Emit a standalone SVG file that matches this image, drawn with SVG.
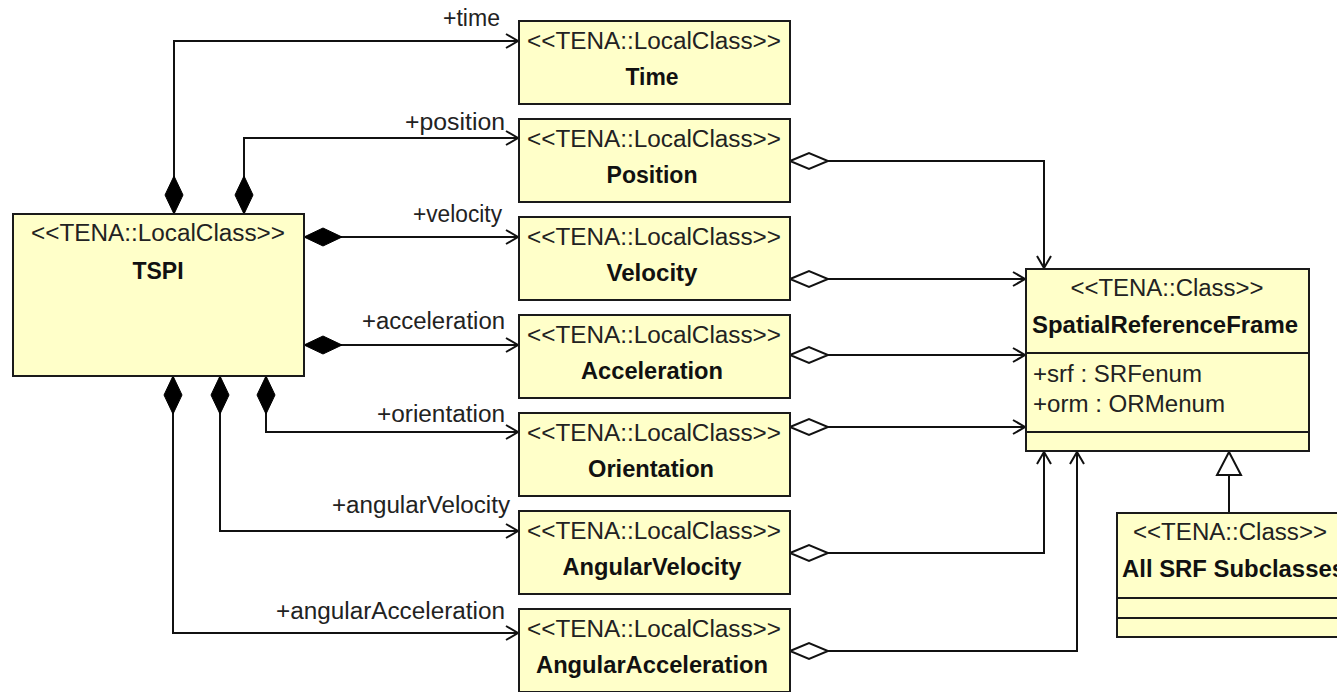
<svg xmlns="http://www.w3.org/2000/svg" width="1337" height="692" viewBox="0 0 1337 692">
<style>
.box{fill:#ffffc9;stroke:#1a1a1a;stroke-width:2}
.div{stroke:#1a1a1a;stroke-width:2}
.st{font-family:"Liberation Sans",Arial,sans-serif;font-size:23px;fill:#222;text-anchor:middle}
.nm{font-family:"Liberation Sans",Arial,sans-serif;font-size:23px;font-weight:bold;fill:#111;text-anchor:middle}
.at{font-family:"Liberation Sans",Arial,sans-serif;font-size:23px;fill:#222}
.lb{font-family:"Liberation Sans",Arial,sans-serif;font-size:23px;fill:#222}
.ln{fill:none;stroke:#111;stroke-width:2}
.comp{marker-start:url(#dfill);marker-end:url(#arr)}
.agg{marker-start:url(#dhollow);marker-end:url(#arr)}
</style>
<defs>
<marker id="arr" markerUnits="userSpaceOnUse" orient="auto" refX="0" refY="0" markerWidth="1" markerHeight="1" overflow="visible">
<path d="M-12,-7 L0,0 L-12,7" fill="none" stroke="#111" stroke-width="2"/>
</marker>
<marker id="dfill" markerUnits="userSpaceOnUse" orient="auto" refX="0" refY="0" markerWidth="1" markerHeight="1" overflow="visible">
<path d="M0,0 L19,-9 L38,0 L19,9 Z" fill="#000" stroke="#000" stroke-width="1"/>
</marker>
<marker id="dhollow" markerUnits="userSpaceOnUse" orient="auto" refX="0" refY="0" markerWidth="1" markerHeight="1" overflow="visible">
<path d="M0,0 L19,-8 L38,0 L19,8 Z" fill="#fff" stroke="#111" stroke-width="2"/>
</marker>
<marker id="tri" markerUnits="userSpaceOnUse" orient="auto" refX="0" refY="0" markerWidth="1" markerHeight="1" overflow="visible">
<path d="M0,0 L-23,-12 L-23,12 Z" fill="#fff" stroke="#111" stroke-width="2"/>
</marker>
</defs>
<rect width="1337" height="692" fill="#fff"/>

<g id="connectors">
<path class="ln comp" d="M174,214 V41 H518"/>
<path class="ln comp" d="M244,214 V138 H518"/>
<path class="ln comp" d="M304,237 H518"/>
<path class="ln comp" d="M304,345 H518"/>
<path class="ln comp" d="M266,376 V432 H518"/>
<path class="ln comp" d="M220,376 V531 H518"/>
<path class="ln comp" d="M173,376 V633 H518"/>
<path class="ln agg" d="M790,161 H1044 V268"/>
<path class="ln agg" d="M790,279 H1025"/>
<path class="ln agg" d="M790,355 H1025"/>
<path class="ln agg" d="M790,427 H1025"/>
<path class="ln agg" d="M790,553 H1044 V452"/>
<path class="ln agg" d="M790,651 H1077 V452"/>
<path class="ln" d="M1229,513 V452" marker-end="url(#tri)"/>
<text class="lb" x="443" y="26" textLength="57" lengthAdjust="spacingAndGlyphs">+time</text>
<text class="lb" x="405" y="130" textLength="100" lengthAdjust="spacingAndGlyphs">+position</text>
<text class="lb" x="413" y="222" textLength="89" lengthAdjust="spacingAndGlyphs">+velocity</text>
<text class="lb" x="362" y="329" textLength="143" lengthAdjust="spacingAndGlyphs">+acceleration</text>
<text class="lb" x="377" y="422" textLength="128" lengthAdjust="spacingAndGlyphs">+orientation</text>
<text class="lb" x="332" y="513" textLength="178" lengthAdjust="spacingAndGlyphs">+angularVelocity</text>
<text class="lb" x="276" y="619" textLength="229" lengthAdjust="spacingAndGlyphs">+angularAcceleration</text>
</g>

<g id="TSPI">
<rect class="box" x="13" y="214" width="291" height="162"/>
<text class="st" x="158" y="241" textLength="254" lengthAdjust="spacingAndGlyphs">&lt;&lt;TENA::LocalClass&gt;&gt;</text>
<text class="nm" x="158" y="279">TSPI</text>
</g>

<g id="Time">
<rect class="box" x="519" y="21" width="271" height="83"/>
<text class="st" x="654" y="49" textLength="254" lengthAdjust="spacingAndGlyphs">&lt;&lt;TENA::LocalClass&gt;&gt;</text>
<text class="nm" x="652" y="85" textLength="53" lengthAdjust="spacingAndGlyphs">Time</text>
</g>
<g id="Position">
<rect class="box" x="519" y="119" width="271" height="83"/>
<text class="st" x="654" y="147" textLength="254" lengthAdjust="spacingAndGlyphs">&lt;&lt;TENA::LocalClass&gt;&gt;</text>
<text class="nm" x="652" y="183" textLength="91" lengthAdjust="spacingAndGlyphs">Position</text>
</g>
<g id="Velocity">
<rect class="box" x="519" y="217" width="271" height="83"/>
<text class="st" x="654" y="245" textLength="254" lengthAdjust="spacingAndGlyphs">&lt;&lt;TENA::LocalClass&gt;&gt;</text>
<text class="nm" x="652" y="281" textLength="91" lengthAdjust="spacingAndGlyphs">Velocity</text>
</g>
<g id="Acceleration">
<rect class="box" x="519" y="315" width="271" height="83"/>
<text class="st" x="654" y="343" textLength="254" lengthAdjust="spacingAndGlyphs">&lt;&lt;TENA::LocalClass&gt;&gt;</text>
<text class="nm" x="652" y="379" textLength="142" lengthAdjust="spacingAndGlyphs">Acceleration</text>
</g>
<g id="Orientation">
<rect class="box" x="519" y="413" width="271" height="83"/>
<text class="st" x="654" y="441" textLength="254" lengthAdjust="spacingAndGlyphs">&lt;&lt;TENA::LocalClass&gt;&gt;</text>
<text class="nm" x="651" y="477" textLength="126" lengthAdjust="spacingAndGlyphs">Orientation</text>
</g>
<g id="AngularVelocity">
<rect class="box" x="519" y="511" width="271" height="83"/>
<text class="st" x="654" y="539" textLength="254" lengthAdjust="spacingAndGlyphs">&lt;&lt;TENA::LocalClass&gt;&gt;</text>
<text class="nm" x="652" y="575" textLength="179" lengthAdjust="spacingAndGlyphs">AngularVelocity</text>
</g>
<g id="AngularAcceleration">
<rect class="box" x="519" y="609" width="271" height="83"/>
<text class="st" x="654" y="637" textLength="254" lengthAdjust="spacingAndGlyphs">&lt;&lt;TENA::LocalClass&gt;&gt;</text>
<text class="nm" x="652" y="673" textLength="232" lengthAdjust="spacingAndGlyphs">AngularAcceleration</text>
</g>

<g id="SpatialReferenceFrame">
<rect class="box" x="1026" y="269" width="283" height="182"/>
<line class="div" x1="1026" y1="353" x2="1309" y2="353"/>
<line class="div" x1="1026" y1="432" x2="1309" y2="432"/>
<text class="st" x="1167" y="296" textLength="193" lengthAdjust="spacingAndGlyphs">&lt;&lt;TENA::Class&gt;&gt;</text>
<text class="nm" x="1165" y="333" textLength="266" lengthAdjust="spacingAndGlyphs">SpatialReferenceFrame</text>
<text class="at" x="1033" y="382" textLength="169" lengthAdjust="spacingAndGlyphs">+srf : SRFenum</text>
<text class="at" x="1033" y="412" textLength="192" lengthAdjust="spacingAndGlyphs">+orm : ORMenum</text>
</g>

<g id="AllSRFSubclasses">
<rect class="box" x="1117" y="513" width="234" height="124"/>
<line class="div" x1="1117" y1="598" x2="1351" y2="598"/>
<line class="div" x1="1117" y1="618" x2="1351" y2="618"/>
<text class="st" x="1230" y="540" textLength="194" lengthAdjust="spacingAndGlyphs">&lt;&lt;TENA::Class&gt;&gt;</text>
<text class="nm" x="1122" y="577" style="text-anchor:start" textLength="223" lengthAdjust="spacingAndGlyphs">All SRF Subclasses</text>
</g>
</svg>
